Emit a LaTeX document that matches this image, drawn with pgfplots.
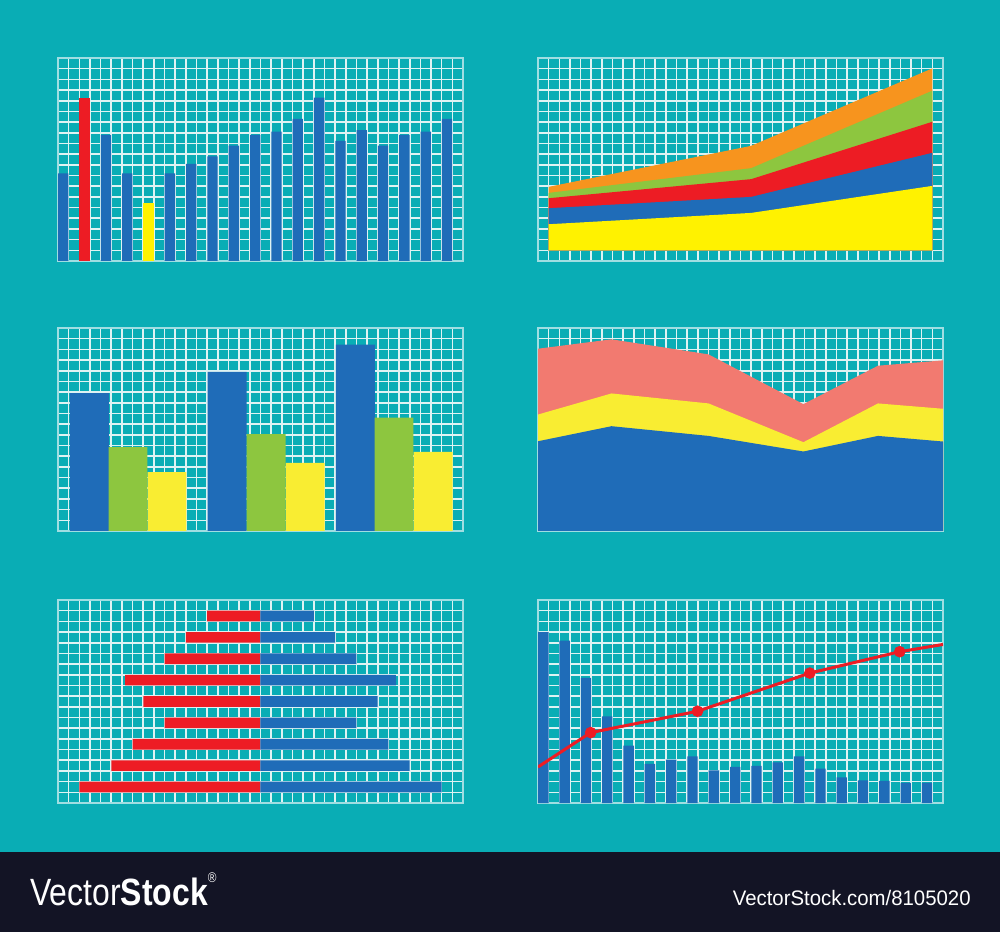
\documentclass[border=0pt]{standalone}
\usepackage{pgfplots}
\pgfplotsset{compat=1.18}
\usepackage{fontspec}
\setmainfont{Liberation Sans}
\definecolor{bgteal}{RGB}{9,173,181}
\definecolor{gridc}{RGB}{222,243,243}
\definecolor{framec}{RGB}{160,222,226}
\definecolor{cblue}{RGB}{31,108,184}
\definecolor{cred}{RGB}{237,28,36}
\definecolor{cyellow}{RGB}{255,242,0}
\definecolor{cgreen}{RGB}{141,198,63}
\definecolor{corange}{RGB}{247,148,30}
\definecolor{csalmon}{RGB}{242,122,112}
\definecolor{cyellowb}{RGB}{249,237,50}
\definecolor{cdark}{RGB}{19,20,37}
\pgfplotsset{panel/.style={
  scale only axis, width=202.5pt, height=101.5pt, anchor=south west,
  xmin=0, xmax=38, ymin=0, ymax=19,
  xtick={0,1,...,38}, ytick={0,1,...,19},
  xticklabels={}, yticklabels={},
  tick style={draw=none},
  grid=major,
  major grid style={draw=gridc, line width=0.8pt},
  axis line style={draw=framec, line width=1pt},
  clip=true,
}}
\begin{document}
\begin{tikzpicture}[x=1pt,y=1pt]
\fill[bgteal] (0,0) rectangle (500,466);
\fill[cdark] (0,0) rectangle (500,40);

% top-left: bars
\begin{axis}[panel, at={(29pt,335.5pt)}]
\addplot[ybar, bar width=0.97, bar shift=0pt, fill=cblue, draw=none] coordinates {
(0.5,8.2) (4.5,11.8) (6.5,8.2) (10.5,8.2) (12.5,9.1) (14.5,9.8) (16.5,10.8) (18.5,11.8)
(20.5,12.1) (22.5,13.3) (24.5,15.3) (26.5,11.25) (28.5,12.25) (30.5,10.8) (32.5,11.8)
(34.5,12.1) (36.5,13.3)};
\addplot[ybar, bar width=0.97, bar shift=0pt, fill=cred, draw=none] coordinates {(2.5,15.3)};
\addplot[ybar, bar width=0.97, bar shift=0pt, fill=cyellow, draw=none] coordinates {(8.5,5.4)};
\end{axis}

% top-right: stacked areas
\begin{axis}[panel, at={(269pt,335.5pt)}]
\addplot[fill=corange, draw=none] coordinates {(1,1)(1,6.94)(20,10.78)(37,18.03)(37,1)} -- cycle;
\addplot[fill=cgreen, draw=none] coordinates {(1,1)(1,6.375)(20,8.69)(37,15.94)(37,1)} -- cycle;
\addplot[fill=cred, draw=none] coordinates {(1,1)(1,5.875)(20,7.66)(37,13.03)(37,1)} -- cycle;
\addplot[fill=cblue, draw=none] coordinates {(1,1)(1,4.94)(20,6.0)(37,10.125)(37,1)} -- cycle;
\addplot[fill=cyellow, draw=none] coordinates {(1,1)(1,3.44)(20,4.5)(37,7.03)(37,1)} -- cycle;
\end{axis}

% middle-left: grouped bars
\begin{axis}[panel, at={(29pt,200.5pt)}]
\addplot[ybar, bar width=3.65, bar shift=0pt, fill=cblue, draw=none] coordinates {(2.94,12.9)(15.875,14.9)(27.9,17.44)};
\addplot[ybar, bar width=3.65, bar shift=0pt, fill=cgreen, draw=none] coordinates {(6.57,7.84)(19.53,9.06)(31.53,10.6)};
\addplot[ybar, bar width=3.65, bar shift=0pt, fill=cyellowb, draw=none] coordinates {(10.23,5.5)(23.2,6.375)(35.2,7.4)};
\end{axis}

% middle-right: stacked areas
\begin{axis}[panel, at={(269pt,200.5pt)}]
\addplot[fill=csalmon, draw=none] coordinates {(0,0)(0,17.06)(6.9,17.94)(16,16.53)(24.9,11.875)(31.9,15.47)(38,15.97)(38,0)} -- cycle;
\addplot[fill=cyellowb, draw=none] coordinates {(0,0)(0,10.9)(6.9,12.875)(16,11.94)(24.9,8.31)(31.9,11.94)(38,11.44)(38,0)} -- cycle;
\addplot[fill=cblue, draw=none] coordinates {(0,0)(0,8.4)(6.9,9.81)(16,8.9)(24.9,7.44)(31.9,8.9)(38,8.375)(38,0)} -- cycle;
\end{axis}

% bottom-left: pyramid
\begin{axis}[panel, at={(29pt,64.5pt)}, xmin=-19, xmax=19, xtick={-19,-18,...,19}]
\addplot[xbar, bar width=1, bar shift=0pt, fill=cred, draw=none] coordinates {
(-5,17.5)(-7,15.5)(-9,13.5)(-12.7,11.5)(-11,9.5)(-9,7.5)(-12,5.5)(-14,3.5)(-17,1.5)};
\addplot[xbar, bar width=1, bar shift=0pt, fill=cblue, draw=none] coordinates {
(5,17.5)(7,15.5)(9,13.5)(12.7,11.5)(11,9.5)(9,7.5)(12,5.5)(14,3.5)(17,1.5)};
\end{axis}

% bottom-right: bars + line
\begin{axis}[panel, at={(269pt,64.5pt)}]
\addplot[ybar, bar width=0.97, bar shift=0pt, fill=cblue, draw=none] coordinates {
(0.5,16)(2.5,15.2)(4.5,11.7)(6.5,8.1)(8.5,5.375)(10.5,3.66)(12.5,4.06)(14.5,4.375)
(16.5,3.06)(18.5,3.375)(20.5,3.47)(22.5,3.8)(24.5,4.375)(26.5,3.22)(28.5,2.4)
(30.5,2.125)(32.5,2.06)(34.5,1.875)(36.5,1.875)};
\addplot[cred, line width=1.5pt, no marks] coordinates {(0,3.375)(4.94,6.59)(14.97,8.59)(25.5,12.16)(33.94,14.16)(38,14.84)};
\addplot[only marks, mark=*, mark size=2.7pt, color=cred] coordinates {(4.94,6.59)(14.97,8.59)(25.5,12.16)(33.94,14.16)};
\end{axis}

\node[anchor=base west, text=white, font=\fontsize{19}{19}\selectfont, xscale=0.84, inner sep=0pt] at (15,13.5) {Vector\textbf{Stock}\raisebox{1.1ex}{\fontsize{7}{7}\selectfont\textregistered}};
\node[anchor=base east, text=white, font=\fontsize{10.5}{10.5}\selectfont, xscale=0.97, inner sep=0pt] at (485.5,13.5) {VectorStock.com/8105020};
\end{tikzpicture}
\end{document}
